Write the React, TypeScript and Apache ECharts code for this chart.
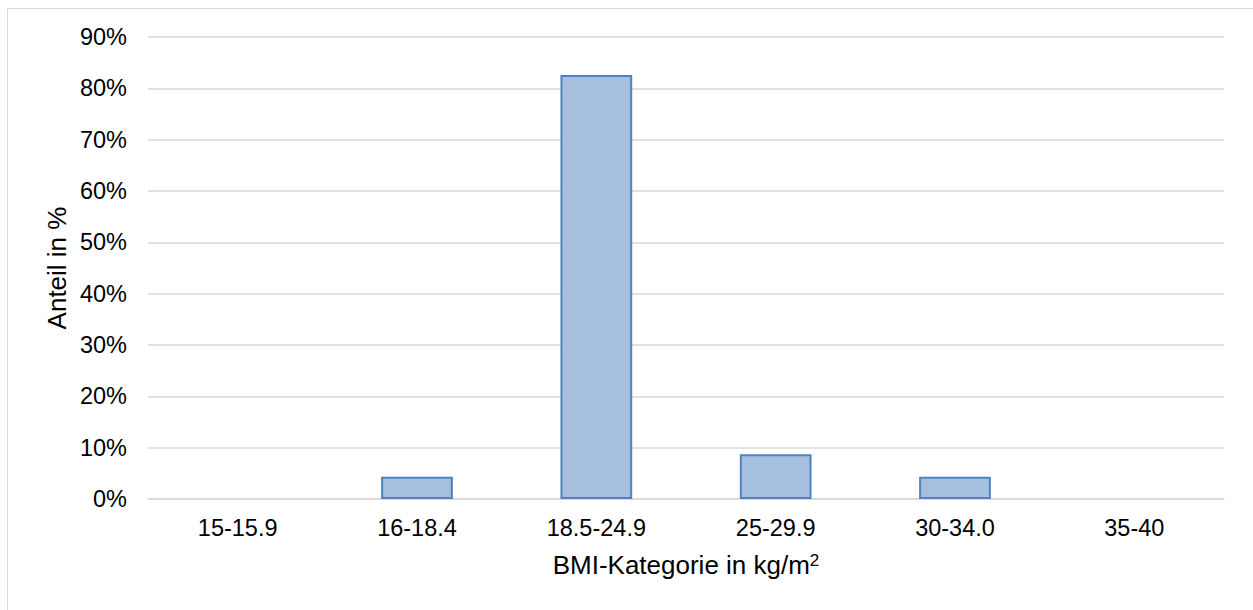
import React, { useEffect, useRef } from "react";
import * as echarts from "echarts";

const categories = ["15-15.9", "16-18.4", "18.5-24.9", "25-29.9", "30-34.0", "35-40"];
const shares = [0, 4.35, 82.61, 8.7, 4.35, 0];
const yTicks = [0, 10, 20, 30, 40, 50, 60, 70, 80, 90];

const FONT = "'Liberation Sans', Arial, sans-serif";

export default function App() {
  const ref = useRef<HTMLDivElement>(null);
  useEffect(() => {
    if (!ref.current) return;
    const chart = echarts.init(ref.current, undefined, { renderer: "svg" });
    chart.setOption({
      animation: false,
      backgroundColor: "#ffffff",
      textStyle: { fontFamily: FONT },
      grid: { left: 140, top: 28, right: 29, bottom: 111, containLabel: false },
      xAxis: {
        type: "category",
        data: categories,
        axisLine: { show: true, lineStyle: { color: "#d9d9d9", width: 1.5 } },
        axisTick: { show: false },
        axisLabel: { color: "#000000", fontSize: 23.5, margin: 17, fontFamily: FONT },
        splitLine: { show: false },
      },
      yAxis: {
        type: "value",
        min: 0,
        max: yTicks[yTicks.length - 1],
        interval: 10,
        axisLine: { show: false },
        axisTick: { show: false },
        axisLabel: { color: "#000000", fontSize: 23.5, margin: 21, formatter: "{value}%", fontFamily: FONT },
        splitLine: { show: true, lineStyle: { color: "#d9d9d9", width: 1.5 } },
      },
      graphic: [
        {
          type: "text",
          x: 49,
          y: 259,
          rotation: Math.PI / 2,
          style: {
            text: "Anteil in %",
            fontSize: 26,
            fill: "#000000",
            fontFamily: FONT,
            align: "center",
            verticalAlign: "middle",
          },
          z: 10,
        },
        {
          type: "text",
          x: 678,
          y: 556,
          style: {
            text: "BMI-Kategorie in kg/m{s|2}",
            fontSize: 26,
            fill: "#000000",
            fontFamily: FONT,
            align: "center",
            verticalAlign: "middle",
            rich: { s: { fontSize: 17, padding: [0, 0, 10, 0], fontFamily: FONT, fill: "#000000" } },
          },
          z: 10,
        },
      ],
      series: [
        {
          type: "bar",
          data: shares.map((v) => ({
            value: v,
            itemStyle: v === 0 ? { borderWidth: 0, opacity: 0 } : undefined,
          })),
          barWidth: "40%",
          itemStyle: { color: "#a7bfde", borderColor: "#5181c0", borderWidth: 2 },
        },
      ],
    });
    return () => chart.dispose();
  }, []);
  return (
    <div
      style={{
        position: "fixed",
        left: 7,
        top: 8,
        width: 1246,
        height: 602,
        boxSizing: "border-box",
        borderLeft: "1px solid #d9d9d9",
        borderTop: "1px solid #d9d9d9",
        background: "#ffffff",
      }}
    >
      <div ref={ref} style={{ width: "100%", height: "100%" }} />
    </div>
  );
}
